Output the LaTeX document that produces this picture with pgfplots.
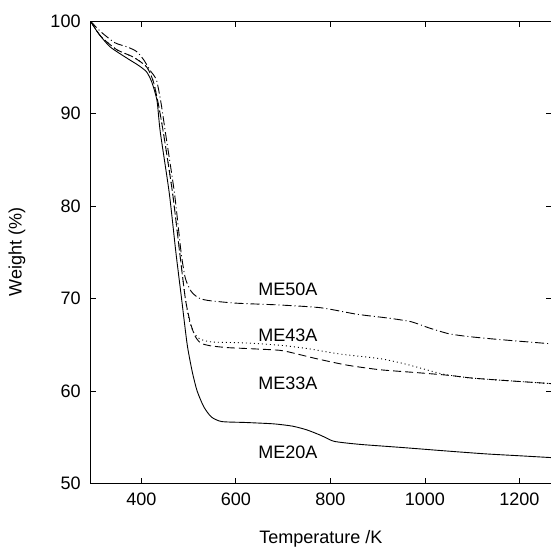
\documentclass[border=0pt]{standalone}
\usepackage{fontspec}
\setmainfont{Liberation Sans}
\usepackage{pgfplots}
\pgfplotsset{compat=1.18}
\begin{document}
\begin{tikzpicture}
\begin{axis}[
 scale only axis, width=461pt, height=462pt,
 xmin=291.5, xmax=1268, ymin=50, ymax=100,
 xtick={400,600,...,1200}, ytick={50,60,...,100},
 tick align=inside, major tick length=6pt,
 tick style={line width=0.8pt, black},
 axis line style={line width=1pt},
 /pgf/number format/assume math mode=true,
 /pgf/number format/set thousands separator={},
 ticklabel style={font=\fontsize{18}{20}\selectfont},
 yticklabel style={xshift=-6pt},
 xticklabel style={yshift=-6pt},
 label style={font=\fontsize{18}{20}\selectfont},
 xlabel={Temperature /K}, ylabel={Weight (\%)},
 xlabel style={at={(axis description cs:0.5,-0.119)}, anchor=center},
 ylabel style={at={(axis description cs:-0.1584,0.5)}, anchor=center},
 every axis plot/.append style={line width=0.9pt, black, no markers, smooth, tension=0.4},
 clip=true,
]
% ME20A solid
\addplot[black, solid, no markers] coordinates {(292,100)(310,98.6)(334,97.2)(369,96.0)(394,95.2)(411,94.5)(422,93.4)(433,91.4)(440,88.0)(459,81.4)(473,75)(485,70)(497,65)(508,62)(518,60)(532,58.3)(548,57.2)(570,56.7)(620,56.6)(680,56.45)(720,56.2)(750,55.8)(780,55.2)(805,54.6)(830,54.4)(870,54.2)(950,53.9)(1050,53.5)(1130,53.2)(1200,53.0)(1268,52.8)};
% ME33A long dash
\addplot[black, no markers, dash pattern=on 8pt off 4pt] coordinates {(292,100)(315,98.3)(348,96.9)(383,96.1)(411,95.05)(425,93.5)(436,91)(447,87.8)(466,81.4)(481,75)(493,70)(503,67.5)(513,66)(525,65.2)(545,64.9)(580,64.7)(620,64.6)(693,64.4)(730,64.0)(770,63.5)(835,62.8)(905,62.3)(980,62.0)(1050,61.7)(1100,61.4)(1180,61.1)(1268,60.8)};
% ME43A dotted
\addplot[black, no markers, dash pattern=on 1pt off 3pt] coordinates {(292,100)(315,98.3)(348,96.9)(383,96.1)(411,95.05)(425,93.5)(436,91)(447,87.8)(466,81.4)(481,75)(493,70)(502,67.5)(512,66.2)(525,65.6)(550,65.3)(620,65.2)(693,64.95)(750,64.6)(820,64.0)(905,63.5)(960,62.9)(1032,61.9)(1060,61.65)(1100,61.4)(1180,61.1)(1268,60.8)};
% ME50A dash-dot
\addplot[black, no markers, dash pattern=on 9pt off 3pt on 1pt off 3pt] coordinates {(292,100)(315,98.8)(344,97.65)(370,97.2)(390,96.7)(405,95.8)(418,94.7)(432,93.6)(442,91)(451,87.9)(470,81.4)(484,75)(493,72.2)(505,70.8)(520,70.1)(540,69.8)(600,69.5)(693,69.3)(780,69.0)(856,68.3)(920,67.9)(970,67.5)(1010,66.8)(1050,66.2)(1090,65.9)(1150,65.6)(1220,65.3)(1268,65.1)};
\node[anchor=east, font=\fontsize{18}{20}\selectfont] at (axis cs:780,71.0) {ME50A};
\node[anchor=east, font=\fontsize{18}{20}\selectfont] at (axis cs:780,66.0) {ME43A};
\node[anchor=east, font=\fontsize{18}{20}\selectfont] at (axis cs:780,60.8) {ME33A};
\node[anchor=east, font=\fontsize{18}{20}\selectfont] at (axis cs:780,53.4) {ME20A};
\end{axis}
\pgfresetboundingbox
\path[use as bounding box] ([xshift=-90pt,yshift=-67pt]current axis.south west) rectangle ([xshift=-0.6pt,yshift=21pt]current axis.north east);
\end{tikzpicture}
\end{document}
